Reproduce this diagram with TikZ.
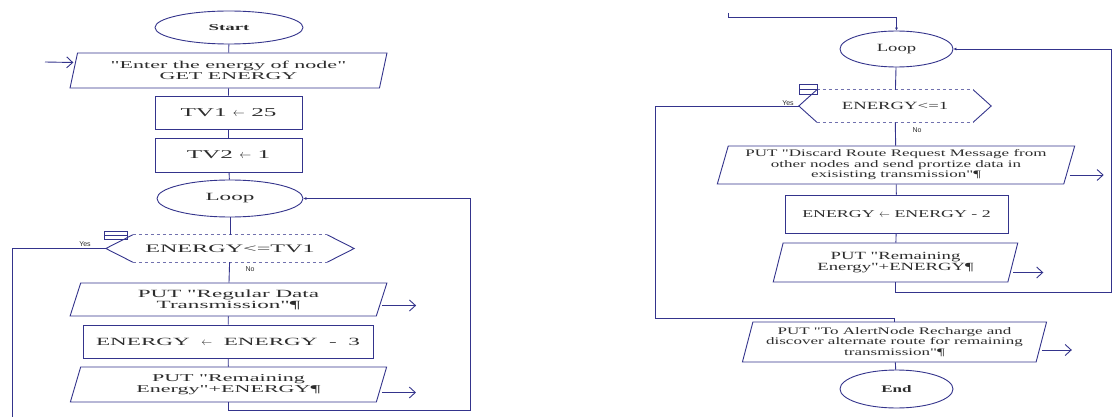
\documentclass[tikz,border=0pt]{standalone}
\usepackage{fontspec}
\setmainfont{Liberation Serif}[FakeStretch=1.7, Ligatures=TeXOff]
\newfontfamily\wideserif{Liberation Serif}[FakeStretch=2.1, Ligatures=TeXOff]
\newfontfamily\answerfont{Liberation Sans}
\usetikzlibrary{shapes.geometric,arrows.meta,positioning}

\definecolor{flowline}{RGB}{52,52,140}
\definecolor{flowtext}{RGB}{45,45,45}

\tikzset{
  terminal/.style={ellipse, draw=flowline, line width=0.9pt, inner sep=0pt, text=flowtext, font=\fontsize{10}{11}\selectfont},
  process/.style={rectangle, draw=flowline, line width=0.9pt, inner sep=0pt, text=flowtext, font=\fontsize{11}{12}\selectfont},
  inout/.style={trapezium, trapezium left angle=72, trapezium right angle=108, trapezium stretches=true, draw=flowline, line width=0.9pt, inner sep=0pt, align=center, text=flowtext, font=\fontsize{10}{10.5}\selectfont},
  decision/.style={rectangle, inner sep=0pt, text=flowtext, font=\fontsize{11}{12}\selectfont},
  leftside/.style={font=\wideserif\fontsize{#1}{#1}\selectfont},
  flow/.style={draw=flowline, line width=0.9pt},
  outarrow/.style={flow, -{Straight Barb[length=6pt,width=11pt]}},
  answer/.style={font=\answerfont\fontsize{7}{7}\selectfont, text=flowtext},
}

\begin{document}
\begin{tikzpicture}[x=1pt, y=-1pt]
  \path[fill=white, use as bounding box] (0,0) rectangle (1113,417);

  % left column
  \node[terminal, leftside=9, minimum width=148pt, minimum height=33pt] (start) at (229,27.5) {\bfseries Start};
  \node[inout, leftside=10.5, minimum width=317pt, minimum height=35pt] (input) at (228.5,70.5) {"Enter the energy of node"\\GET ENERGY};
  \node[process, leftside=12, minimum width=147pt, minimum height=33pt] (tvone) at (228.5,112.5) {TV1 $\leftarrow$ 25};
  \node[process, leftside=12, minimum width=147pt, minimum height=34pt] (tvtwo) at (228.5,155) {TV2 $\leftarrow$ 1};
  \node[terminal, leftside=11, minimum width=146pt, minimum height=37pt] (loopA) at (230,198.5) {Loop};
  \node[decision, leftside=11.5, minimum width=194pt, minimum height=27pt] (checkA) at (230,248.5) {ENERGY<=TV1};
  \node[inout, leftside=11, minimum width=317pt, minimum height=33pt] (putdata) at (228.5,299.5) {PUT "Regular Data\\Transmission"¶};
  \node[process, leftside=11, minimum width=290pt, minimum height=33pt] (minusthree) at (228,341.5) {ENERGY \ $\leftarrow$ \ ENERGY \ - \ 3};
  \node[inout, leftside=10.5, minimum width=317pt, minimum height=35pt] (remainA) at (228.5,384.5) {PUT "Remaining\\Energy"+ENERGY¶};

  \coordinate (entry) at (45,62);
  \coordinate (backA) at (470,410);
  \coordinate (yesA) at (12,417);

  % right column
  \node[terminal, font=\fontsize{11}{12}\selectfont, minimum width=113pt, minimum height=36pt] (loopB) at (896.5,49) {Loop};
  \node[decision, minimum width=156pt, minimum height=32pt] (checkB) at (895,106) {ENERGY<=1};
  \node[inout, minimum width=358pt, minimum height=38pt] (discard) at (896,165) {PUT "Discard Route Request Message from\\other nodes and send prortize data in\\exisisting transmission"¶};
  \node[process, font=\fontsize{10.5}{12}\selectfont, minimum width=223pt, minimum height=38pt] (minustwo) at (896.5,214) {ENERGY $\leftarrow$ ENERGY - 2};
  \node[inout, font=\fontsize{11}{11.5}\selectfont, minimum width=245pt, minimum height=39pt] (remainB) at (895.5,262.5) {PUT "Remaining\\Energy"+ENERGY¶};
  \node[inout, minimum width=305pt, minimum height=40pt] (alert) at (894.5,342) {PUT "To AlertNode Recharge and\\discover alternate route for remaining\\transmission"¶};
  \node[terminal, minimum width=113pt, minimum height=38pt] (stop) at (896.5,389) {\bfseries End};

  \coordinate (topB) at (728,13);
  \coordinate (turnB) at (896.5,17);
  \coordinate (backB) at (1111,292);
  \coordinate (yesB) at (655,318);

  % decision outlines
  \foreach \dec/\tip in {checkA/27, checkB/18} {
    \draw[flow] (\dec.north west) -- ([xshift=-\tip pt]\dec.west) -- (\dec.south west);
    \draw[flow] (\dec.north east) -- ([xshift=\tip pt]\dec.east) -- (\dec.south east);
    \draw[flowline!70, line width=0.7pt, dashed] (\dec.north west) -- (\dec.north east) (\dec.south west) -- (\dec.south east);
  }
  \draw[flow, line width=0.7pt] ([shift={(-28,-3)}]checkA.north west) rectangle ++(23,8) ([shift={(-28,1)}]checkA.north west) -- ++(23,0);
  \draw[flow, line width=0.7pt] ([shift={(-17,-5)}]checkB.north west) rectangle ++(18,10) ([shift={(-17,0)}]checkB.north west) -- ++(18,0);
  \node[answer] at (85,244) {Yes};
  \node[answer] at (250,269) {No};
  \node[answer] at (788,103) {Yes};
  \node[answer] at (917,130) {No};

  % connectors left
  \draw[flow] (start) -- (input);
  \draw[flow] (input) -- (tvone);
  \draw[flow] (tvone) -- (tvtwo);
  \draw[flow] (tvtwo) -- (loopA);
  \draw[flow] (loopA) -- (checkA);
  \draw[flow] (checkA) -- (putdata);
  \draw[flow] (putdata) -- (minusthree);
  \draw[flow] (minusthree) -- (remainA);
  \draw[flow, -{Latex[length=3pt,width=3pt]}] (remainA.south) |- (backA) |- (loopA.east);
  \draw[flow] ([xshift=-27pt]checkA.west) -| (yesA);
  \draw[outarrow] (entry) -- ([yshift=8pt]input.west);
  \draw[outarrow] ([yshift=-6pt]putdata.east) -- ++(34,0);
  \draw[outarrow] ([yshift=-8pt]remainA.east) -- ++(34,0);

  % connectors right
  \draw[flow, -{Latex[length=3pt,width=3pt]}] (topB) |- (turnB) -- (loopB);
  \draw[flow] (loopB) -- (checkB);
  \draw[flow] (checkB) -- (discard);
  \draw[flow] (discard) -- (minustwo);
  \draw[flow] (minustwo) -- (remainB);
  \draw[flow, -{Latex[length=3pt,width=3pt]}] (remainB.south) |- (backB) |- (loopB.east);
  \draw[flow] ([xshift=-18pt]checkB.west) -| (yesB) -| (alert.north);
  \draw[flow] (alert) -- (stop);
  \draw[outarrow] ([yshift=-10pt]discard.east) -- ++(34,0);
  \draw[outarrow] ([yshift=-10pt]remainB.east) -- ++(30,0);
  \draw[outarrow] ([yshift=-8pt]alert.east) -- ++(30,0);
\end{tikzpicture}
\end{document}
